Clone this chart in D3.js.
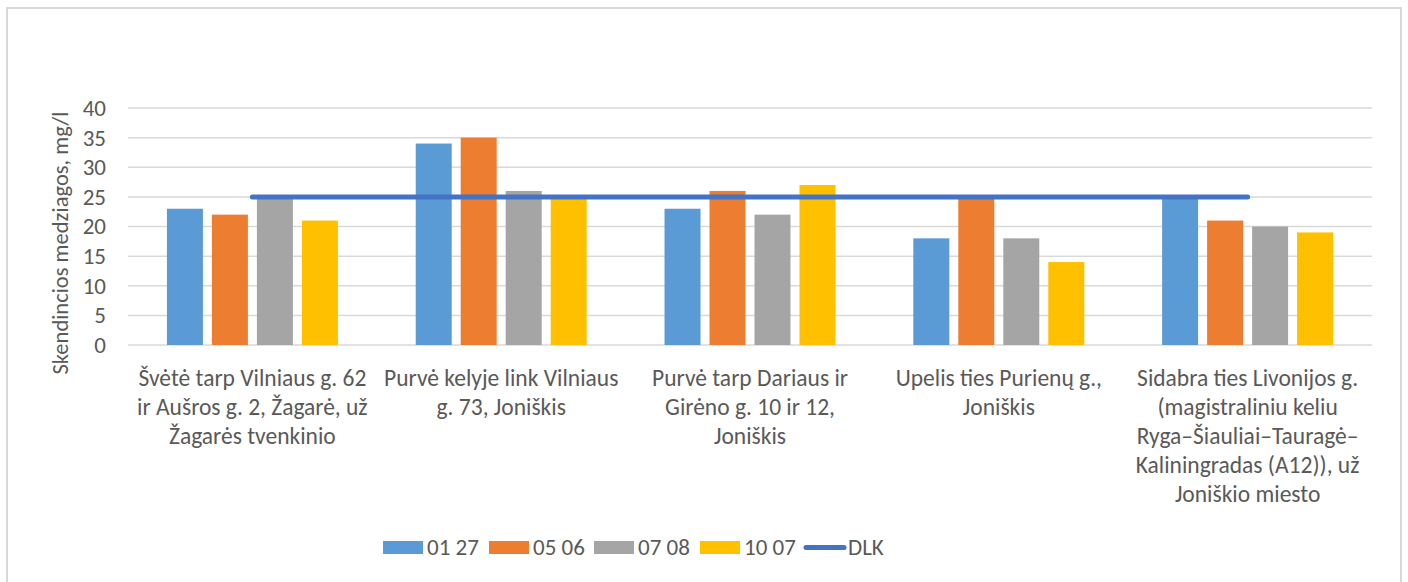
<!DOCTYPE html>
<html>
<head>
<meta charset="utf-8">
<script src="https://cdn.jsdelivr.net/npm/d3@7"></script>
<style>
  body { margin: 0; background: #fff; }
  text { font-family: Carlito, "Liberation Sans Narrow", "Liberation Sans", sans-serif; fill: #595959; }
</style>
</head>
<body>
<div id="chart"></div>
<script>
// Sampling sites (wrapped as in the original)
const categories = [
    ["Švėtė tarp Vilniaus g. 62", "ir Aušros g. 2, Žagarė, už", "Žagarės tvenkinio"],
    ["Purvė kelyje link Vilniaus", "g. 73, Joniškis"],
    ["Purvė tarp Dariaus ir", "Girėno g. 10 ir 12,", "Joniškis"],
    ["Upelis ties Purienų g.,", "Joniškis"],
    ["Sidabra ties Livonijos g.", "(magistraliniu keliu", "Ryga–Šiauliai–Tauragė–", "Kaliningradas (A12)), už", "Joniškio miesto"]
];
const series = ["01 27", "05 06", "07 08", "10 07"];
const colors = ["#5B9BD5", "#ED7D31", "#A5A5A5", "#FFC000"];
const v0127 = [23, 34, 23, 18, 25];
const v0506 = [22, 35, 26, 25, 21];
const v0708 = [25, 26, 22, 18, 20];
const v1007 = [21, 25, 27, 14, 19];
const dlk = [25, 25, 25, 25, 25];
const yTicks = [0, 5, 10, 15, 20, 25, 30, 35, 40];

const values = [v0127, v0506, v0708, v1007];

(function() {
    const W = 1408, H = 582;
    const plot = { left: 128, right: 1372, top: 108, bottom: 345 };
    const fs = "23px";

    const svg = d3.select("#chart").append("svg")
        .attr("width", W).attr("height", H);

    // outer frame
    svg.append("rect")
        .attr("x", 7).attr("y", 8)
        .attr("width", 1394).attr("height", 600)
        .attr("fill", "none").attr("stroke", "#d9d9d9").attr("stroke-width", 2);

    const idx = d3.range(categories.length);
    const x0 = d3.scaleBand().domain(idx).range([plot.left, plot.right]);
    const x1 = d3.scaleBand().domain(d3.range(series.length))
        .range([0, x0.bandwidth()]).paddingInner(0.2).paddingOuter(0.865);
    const y = d3.scaleLinear().domain([0, 40]).range([plot.bottom, plot.top]);

    // gridlines
    svg.append("g").selectAll("line").data(yTicks).enter().append("line")
        .attr("x1", plot.left).attr("x2", plot.right)
        .attr("y1", d => y(d)).attr("y2", d => y(d))
        .attr("stroke", "#d9d9d9").attr("stroke-width", 1.5);

    // y axis labels
    const yAxis = svg.append("g")
        .attr("transform", `translate(${plot.left - 22},0)`)
        .call(d3.axisLeft(y).tickValues(yTicks).tickSize(0).tickPadding(0));
    yAxis.select(".domain").remove();
    yAxis.selectAll("text").style("font-size", fs).attr("fill", "#595959")
        .style("font-family", 'Carlito, "Liberation Sans Narrow", sans-serif');

    // axis title
    svg.append("text")
        .attr("transform", "translate(68,243) rotate(-90)")
        .attr("text-anchor", "middle")
        .style("font-size", "22.5px")
        .text("Skendincios medziagos, mg/l");

    // bars
    series.forEach((s, si) => {
        svg.append("g").selectAll("rect").data(values[si]).enter().append("rect")
            .attr("x", (d, i) => x0(i) + x1(si))
            .attr("width", x1.bandwidth())
            .attr("y", d => y(d))
            .attr("height", d => y(0) - y(d))
            .attr("fill", colors[si]);
    });

    // DLK line
    svg.append("path")
        .datum(dlk)
        .attr("d", d3.line().x((d, i) => x0(i) + x0.bandwidth() / 2).y(d => y(d)))
        .attr("fill", "none").attr("stroke", "#4472C4")
        .attr("stroke-width", 5).attr("stroke-linecap", "round");

    // category labels
    const cat = svg.append("g").selectAll("text").data(categories).enter().append("text")
        .attr("text-anchor", "middle")
        .style("font-size", "23.5px")
        .attr("x", (d, i) => x0(i) + x0.bandwidth() / 2)
        .attr("y", 386);
    cat.selectAll("tspan").data(d => d).enter().append("tspan")
        .attr("x", function() { return d3.select(this.parentNode).attr("x"); })
        .attr("dy", (d, i) => i === 0 ? 0 : 29)
        .text(d => d);

    // legend
    const legX = [383, 489, 594, 700];
    const leg = svg.append("g");
    series.forEach((s, si) => {
        leg.append("rect").attr("x", legX[si]).attr("y", 541)
            .attr("width", 40).attr("height", 13).attr("fill", colors[si]);
        leg.append("text").attr("x", legX[si] + 44).attr("y", 555)
            .style("font-size", fs).text(s);
    });
    leg.append("line").attr("x1", 806).attr("x2", 844).attr("y1", 547.5).attr("y2", 547.5)
        .attr("stroke", "#4472C4").attr("stroke-width", 5).attr("stroke-linecap", "round");
    leg.append("text").attr("x", 848).attr("y", 555).style("font-size", fs).text("DLK");
})();
</script>
</body>
</html>
